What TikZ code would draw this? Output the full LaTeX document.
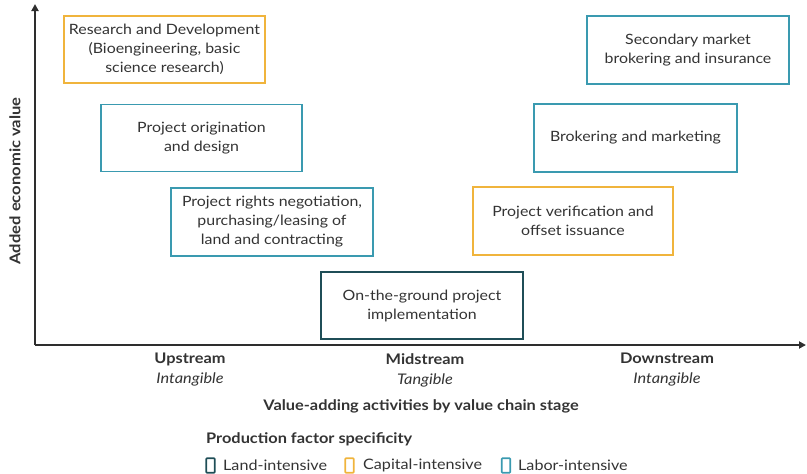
\documentclass[tikz,border=0pt]{standalone}
\usepackage{fontspec}
\setmainfont{Lato}[FakeStretch=1.12]
\usetikzlibrary{arrows.meta}
\definecolor{orng}{HTML}{F0B43C}
\definecolor{teal2}{HTML}{3A9AB0}
\definecolor{dteal}{HTML}{1F4E57}
\definecolor{txt}{HTML}{333333}
\begin{document}
\begin{tikzpicture}[x=1pt,y=-1pt,
  box/.style={draw, line width=1.6pt, text=txt, align=center, font=\fontsize{14.2}{19}\selectfont, inner sep=0pt},
  capbox/.style={draw=orng},
  labbox/.style={draw=teal2},
  landbox/.style={draw=dteal},
  axis/.style={line width=2pt, draw=txt!90!black, -{Triangle[length=7pt,width=7pt]}},
  stage/.style={text=txt, font=\fontsize{14.6}{20}\selectfont\bfseries, align=center},
  leg/.style={text=txt, font=\fontsize{14.4}{16}\selectfont, anchor=west, inner sep=0pt},
  sq/.style={draw, line width=1.6pt, minimum width=8.5pt, minimum height=14.5pt, inner sep=0pt, rounded corners=0.8pt}
]
\useasboundingbox (0,0) rectangle (807,474);
\coordinate (o) at (35,345);
\coordinate (ytip) at (35,4);
\coordinate (xtip) at (806,345);
\draw[axis] (o) -- (ytip);
\draw[axis] (o) -- (xtip);
\node[rotate=90, text=txt, font=\fontsize{14.8}{16}\selectfont\bfseries] (ylab) at (15,181) {Added economic value};

\node[box, capbox, minimum width=201pt, minimum height=67pt] (rd) at (164.5,49.5) {Research and Development\\(Bioengineering, basic\\science research)};
\node[box, labbox, minimum width=201pt, minimum height=67pt] (orig) at (201.5,138) {Project origination\\and design};
\node[box, labbox, minimum width=202pt, minimum height=68pt] (rights) at (272,222) {Project rights negotiation,\\purchasing/leasing of\\land and contracting};
\node[box, landbox, minimum width=202pt, minimum height=67pt] (ground) at (422,305.5) {On-the-ground project\\implementation};
\node[box, capbox, minimum width=200pt, minimum height=68pt] (verif) at (573,221) {Project verification and\\offset issuance};
\node[box, labbox, minimum width=203pt, minimum height=68pt] (brok) at (635.5,138) {Brokering and marketing};
\node[box, labbox, minimum width=202pt, minimum height=68pt] (sec) at (688,50) {Secondary market\\brokering and insurance};

\node[stage] (up) at (190,370) {Upstream\\{\mdseries\itshape Intangible}};
\node[stage] (mid) at (425,370) {Midstream\\{\mdseries\itshape Tangible}};
\node[stage] (down) at (667,370) {Downstream\\{\mdseries\itshape Intangible}};
\node[stage] (xlab) at (421,406) {Value-adding activities by value chain stage};

\node[leg, font=\fontsize{14.6}{16}\selectfont\bfseries] (pfs) at (206,439) {Production factor specificity};
\node[sq, draw=dteal] (sq1) at (210.5,465.5) {};
\node[leg] (l1) at (223,465) {Land-intensive};
\node[sq, draw=orng] (sq2) at (349.5,465.5) {};
\node[leg] (l2) at (363,465) {Capital-intensive};
\node[sq, draw=teal2] (sq3) at (506,465.5) {};
\node[leg] (l3) at (518,465) {Labor-intensive};
\end{tikzpicture}
\end{document}
